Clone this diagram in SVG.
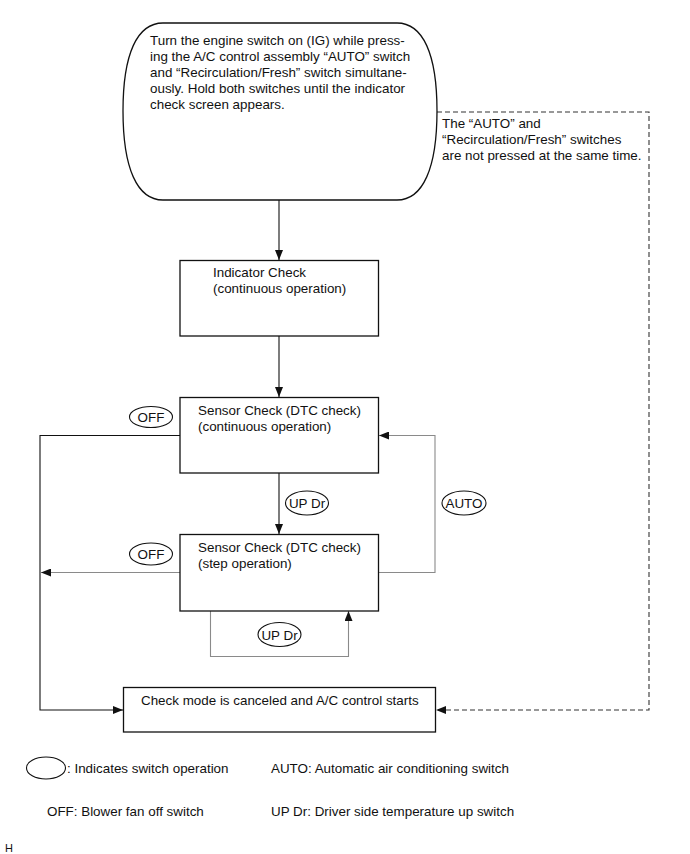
<svg xmlns="http://www.w3.org/2000/svg" width="690" height="854" viewBox="0 0 690 854">
<defs>
<marker id="ah" markerUnits="userSpaceOnUse" markerWidth="11" markerHeight="8" refX="10" refY="4" orient="auto">
<path d="M0,0 L10,4 L0,8 Z" fill="#111"/>
</marker>
<style>
text{font-family:"Liberation Sans",Arial,sans-serif;font-size:13.4px;fill:#111}
.box{fill:#fff;stroke:#111;stroke-width:1.3}
.sw{fill:#fff;stroke:#111;stroke-width:1.1}
.blk{fill:none;stroke:#111;stroke-width:1.1}
.gry{fill:none;stroke:#8a8a8a;stroke-width:1.1}
.dsh{fill:none;stroke:#333;stroke-width:1.1;stroke-dasharray:5 3}
.c{text-anchor:middle}
</style>
</defs>
<rect width="690" height="854" fill="#fff"/>
<g id="connectors">
<path class="blk" d="M279,200 V260" marker-end="url(#ah)"/>
<path class="blk" d="M279,336 V397" marker-end="url(#ah)"/>
<path class="blk" d="M279,473 V534" marker-end="url(#ah)"/>
<path class="blk" d="M180,435.5 H40 V710 H123" marker-end="url(#ah)"/>
<path class="gry" d="M180,572.5 H41" marker-end="url(#ah)"/>
<path class="gry" d="M379,572.5 H435 V435.5 H379" marker-end="url(#ah)"/>
<path class="gry" d="M210.5,611 V656.5 H348.5 V611" marker-end="url(#ah)"/>
<path class="dsh" d="M437,112 H649 V710 H436" marker-end="url(#ah)"/>
</g>
<g id="start">
<path class="box" d="M163,23 H397 C423,23 437,54 437,111 C437,168 423,200 397,200 H163 C137,200 123,168 123,111 C123,54 137,23 163,23 Z"/>
<text x="150" y="45">Turn the engine switch on (IG) while press-</text>
<text x="150" y="61">ing the A/C control assembly “AUTO” switch</text>
<text x="150" y="77">and “Recirculation/Fresh” switch simultane-</text>
<text x="150" y="93">ously. Hold both switches until the indicator</text>
<text x="150" y="109">check screen appears.</text>
</g>
<g id="note">
<text x="442" y="128">The “AUTO” and</text>
<text x="442" y="144">“Recirculation/Fresh” switches</text>
<text x="442" y="160">are not pressed at the same time.</text>
</g>
<g id="indicator">
<rect class="box" x="180" y="260.5" width="198.5" height="75.5"/>
<text x="213" y="277">Indicator Check</text>
<text x="213" y="293">(continuous operation)</text>
</g>
<g id="sensor-cont">
<rect class="box" x="180" y="397.5" width="198.5" height="75.5"/>
<text x="198" y="415">Sensor Check (DTC check)</text>
<text x="198" y="431">(continuous operation)</text>
</g>
<g id="sensor-step">
<rect class="box" x="180" y="534.5" width="198.5" height="76.5"/>
<text x="198" y="552">Sensor Check (DTC check)</text>
<text x="198" y="568">(step operation)</text>
</g>
<g id="cancel">
<rect class="box" x="123.5" y="687.5" width="312" height="44.5"/>
<text x="141" y="705">Check mode is canceled and A/C control starts</text>
</g>
<g id="sw-off1">
<ellipse class="sw" cx="151" cy="417" rx="21.5" ry="10.5"/>
<text class="c" x="151" y="422">OFF</text>
</g>
<g id="sw-off2">
<ellipse class="sw" cx="151" cy="554" rx="21.5" ry="11"/>
<text class="c" x="151" y="559">OFF</text>
</g>
<g id="sw-updr1">
<ellipse class="sw" cx="307" cy="503" rx="21.5" ry="12"/>
<text class="c" x="307" y="508">UP Dr</text>
</g>
<g id="sw-auto">
<ellipse class="sw" cx="464" cy="503" rx="22" ry="12"/>
<text class="c" x="464" y="508">AUTO</text>
</g>
<g id="sw-updr2">
<ellipse class="sw" cx="279.5" cy="634.5" rx="21.5" ry="12"/>
<text class="c" x="279.5" y="639.5">UP Dr</text>
</g>
<g id="legend">
<ellipse class="sw" cx="46" cy="768" rx="19.5" ry="11"/>
<text x="67" y="773">: Indicates switch operation</text>
<text x="271" y="773">AUTO: Automatic air conditioning switch</text>
<text x="47" y="816">OFF: Blower fan off switch</text>
<text x="271" y="816">UP Dr: Driver side temperature up switch</text>
<text x="5" y="852" style="font-size:11px">H</text>
</g>
</svg>
